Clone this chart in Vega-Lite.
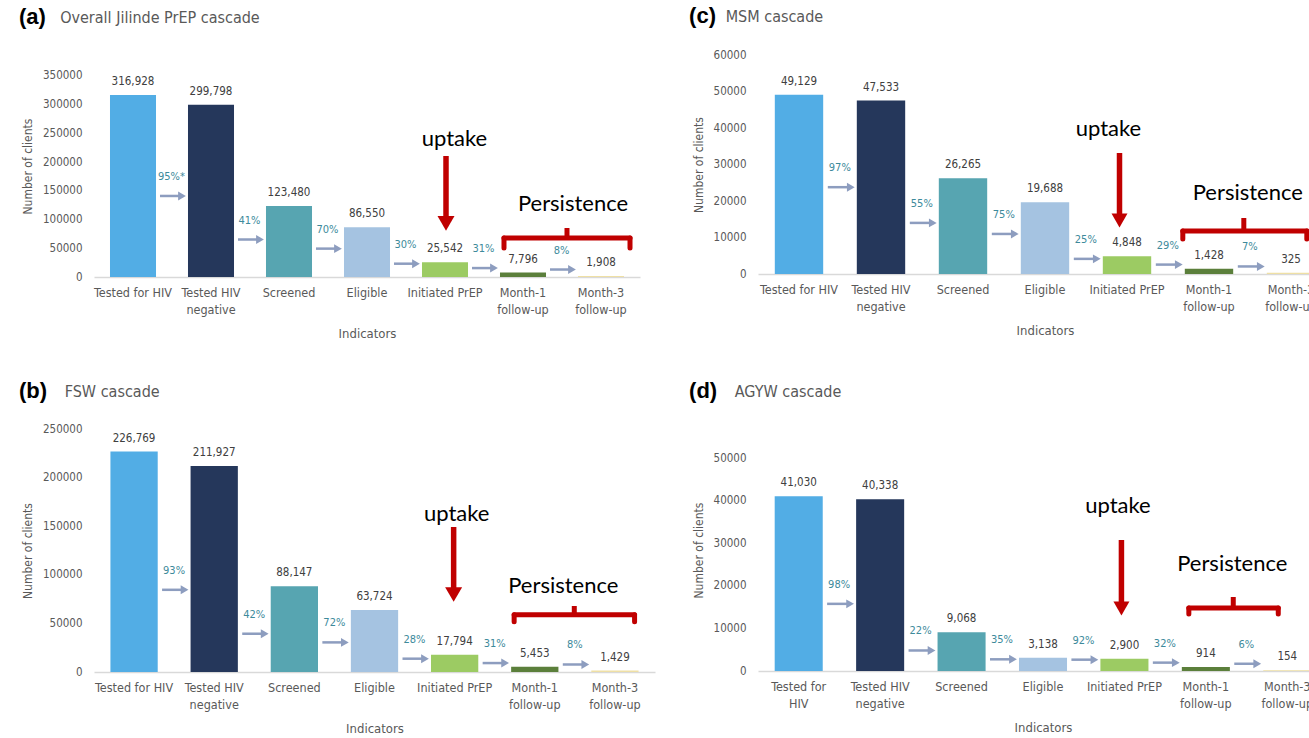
{
  "$schema": "https://vega.github.io/schema/vega-lite/v6.json",
  "padding": {"left": 19, "top": 5, "right": 0, "bottom": 0},
  "background": "#ffffff",
  "config": {
    "font": "DejaVu Sans Condensed, sans-serif",
    "view": {"stroke": null},
    "axisX": {"domain": true, "domainColor": "#D9D9D9", "domainWidth": 1.5, "ticks": false, "grid": false, "labelAngle": 0, "labelPadding": 9, "labelFontSize": 12.5, "labelColor": "#595959", "labelLineHeight": 17, "labelOverlap": false, "labelBound": false, "titleFontSize": 13, "titleColor": "#595959", "titleFontWeight": "normal", "titlePadding": 12},
    "axisY": {"domain": false, "ticks": false, "grid": false, "labelPadding": 12, "labelFontSize": 11.5, "labelColor": "#595959", "titleFontSize": 12, "titleColor": "#595959", "titleFontWeight": "normal", "titlePadding": 8, "format": "d"},
    "title": {"anchor": "start", "frame": "bounds", "font": "Liberation Sans", "fontSize": 22, "fontWeight": "bold", "color": "#000000", "subtitleFont": "DejaVu Sans Condensed, sans-serif", "subtitleFontSize": 16, "subtitleColor": "#595959", "subtitlePadding": -19}
  },
  "datasets": {
    "cascade": [
      {"panel": "a", "step": 1, "indicator": "Tested for HIV", "value": 316928, "pct": null},
      {"panel": "a", "step": 2, "indicator": "Tested HIV\nnegative", "value": 299798, "pct": "95%*"},
      {"panel": "a", "step": 3, "indicator": "Screened", "value": 123480, "pct": "41%"},
      {"panel": "a", "step": 4, "indicator": "Eligible", "value": 86550, "pct": "70%"},
      {"panel": "a", "step": 5, "indicator": "Initiated PrEP", "value": 25542, "pct": "30%"},
      {"panel": "a", "step": 6, "indicator": "Month-1\nfollow-up", "value": 7796, "pct": "31%"},
      {"panel": "a", "step": 7, "indicator": "Month-3\nfollow-up", "value": 1908, "pct": "8%"},
      {"panel": "b", "step": 1, "indicator": "Tested for HIV", "value": 226769, "pct": null},
      {"panel": "b", "step": 2, "indicator": "Tested HIV\nnegative", "value": 211927, "pct": "93%"},
      {"panel": "b", "step": 3, "indicator": "Screened", "value": 88147, "pct": "42%"},
      {"panel": "b", "step": 4, "indicator": "Eligible", "value": 63724, "pct": "72%"},
      {"panel": "b", "step": 5, "indicator": "Initiated PrEP", "value": 17794, "pct": "28%"},
      {"panel": "b", "step": 6, "indicator": "Month-1\nfollow-up", "value": 5453, "pct": "31%"},
      {"panel": "b", "step": 7, "indicator": "Month-3\nfollow-up", "value": 1429, "pct": "8%"},
      {"panel": "c", "step": 1, "indicator": "Tested for HIV", "value": 49129, "pct": null},
      {"panel": "c", "step": 2, "indicator": "Tested HIV\nnegative", "value": 47533, "pct": "97%"},
      {"panel": "c", "step": 3, "indicator": "Screened", "value": 26265, "pct": "55%"},
      {"panel": "c", "step": 4, "indicator": "Eligible", "value": 19688, "pct": "75%"},
      {"panel": "c", "step": 5, "indicator": "Initiated PrEP", "value": 4848, "pct": "25%"},
      {"panel": "c", "step": 6, "indicator": "Month-1\nfollow-up", "value": 1428, "pct": "29%"},
      {"panel": "c", "step": 7, "indicator": "Month-3\nfollow-up", "value": 325, "pct": "7%"},
      {"panel": "d", "step": 1, "indicator": "Tested for\nHIV", "value": 41030, "pct": null},
      {"panel": "d", "step": 2, "indicator": "Tested HIV\nnegative", "value": 40338, "pct": "98%"},
      {"panel": "d", "step": 3, "indicator": "Screened", "value": 9068, "pct": "22%"},
      {"panel": "d", "step": 4, "indicator": "Eligible", "value": 3138, "pct": "35%"},
      {"panel": "d", "step": 5, "indicator": "Initiated PrEP", "value": 2900, "pct": "92%"},
      {"panel": "d", "step": 6, "indicator": "Month-1\nfollow-up", "value": 914, "pct": "32%"},
      {"panel": "d", "step": 7, "indicator": "Month-3\nfollow-up", "value": 154, "pct": "6%"}
    ]
  },
  "spacing": 374,
  "bounds": "flush",
  "vconcat": [
    {
      "spacing": 118,
      "bounds": "flush",
      "hconcat": [
        {
          "width": 546, "height": 222,
          "data": {"name": "cascade"},
          "transform": [{"filter": "datum.panel == 'a'"}],
          "title": {"text": "(a)", "subtitle": "\u200b\u00a0\u00a0\u00a0\u00a0\u00a0\u00a0\u00a0\u00a0\u00a0Overall Jilinde PrEP cascade", "offset": 26, "dx": -2.5},
          "encoding": {"x": {"field": "indicator", "type": "nominal", "scale": {"domain": ["Tested for HIV", "Tested HIV\nnegative", "Screened", "Eligible", "Initiated PrEP", "Month-1\nfollow-up", "Month-3\nfollow-up"], "paddingInner": 0.41, "paddingOuter": 0.205}, "axis": {"title": "Indicators", "labelExpr": "split(datum.label, '\\n')"}}},
          "layer": [
            {"mark": {"type": "bar"}, "encoding": {"y": {"field": "value", "type": "quantitative", "scale": {"domain": [0, 386567], "nice": false}, "axis": {"title": "Number of clients", "values": [0, 50000, 100000, 150000, 200000, 250000, 300000, 350000]}}, "color": {"field": "step", "type": "ordinal", "scale": {"domain": [1, 2, 3, 4, 5, 6, 7], "range": ["#52ADE5", "#25375B", "#57A5B1", "#A5C3E1", "#9CCB63", "#5B7F3B", "#EFE0A5"]}, "legend": null}}},
            {"mark": {"type": "text", "dy": -13, "fontSize": 11.5, "color": "#404040", "baseline": "middle"}, "encoding": {"y": {"field": "value", "type": "quantitative", "scale": {"domain": [0, 386567], "nice": false}, "axis": null}, "text": {"field": "value", "type": "quantitative", "format": ","}}},
            {
              "transform": [{"filter": "datum.pct != null"}],
              "encoding": {"y": {"field": "value", "type": "quantitative", "scale": {"domain": [-28347, 870646], "nice": false, "zero": false}, "axis": null}},
              "layer": [
                {"mark": {"type": "rule", "color": "#8D9DBF", "strokeWidth": 2.5, "xOffset": -28, "x2Offset": -8}, "encoding": {"x": {"field": "indicator", "type": "nominal", "bandPosition": 0}, "x2": {"field": "indicator", "bandPosition": 0}}},
                {"mark": {"type": "point", "shape": "triangle-right", "filled": true, "opacity": 1, "size": 80, "color": "#8D9DBF", "xOffset": -6}, "encoding": {"x": {"field": "indicator", "type": "nominal", "bandPosition": 0}}},
                {"mark": {"type": "text", "dx": -16.5, "dy": -19, "fontSize": 11, "color": "#3D8A9B", "baseline": "middle"}, "encoding": {"x": {"field": "indicator", "type": "nominal", "bandPosition": 0}, "text": {"field": "pct"}}}
              ]
            },
            {
              "data": {"values": [{}]},
              "layer": [
                {"mark": {"type": "text", "text": "uptake", "font": "Lato", "fontSize": 22, "color": "#000000", "baseline": "middle", "dx": 9.5}, "encoding": {"x": {"datum": "Initiated PrEP", "type": "nominal"}, "y": {"datum": 240000, "type": "quantitative", "scale": {"domain": [0, 386567], "nice": false}, "axis": null}}},
                {"mark": {"type": "rule", "color": "#C00000", "strokeWidth": 5.5, "xOffset": 1}, "encoding": {"x": {"datum": "Initiated PrEP", "type": "nominal"}, "y": {"datum": 210700, "type": "quantitative", "scale": {"domain": [0, 386567], "nice": false}, "axis": null}, "y2": {"datum": 100000}}},
                {"mark": {"type": "point", "shape": "triangle-down", "filled": true, "opacity": 1, "size": 289, "color": "#C00000", "xOffset": 1}, "encoding": {"x": {"datum": "Initiated PrEP", "type": "nominal"}, "y": {"datum": 93200, "type": "quantitative", "scale": {"domain": [0, 386567], "nice": false}, "axis": null}}},
                {"mark": {"type": "rule", "color": "#C00000", "strokeWidth": 5, "strokeCap": "round", "xOffset": 4, "x2Offset": 6}, "encoding": {"x": {"datum": "Month-1\nfollow-up", "type": "nominal", "bandPosition": 0}, "x2": {"datum": "Month-3\nfollow-up", "bandPosition": 1}, "y": {"datum": 67900, "type": "quantitative", "scale": {"domain": [0, 386567], "nice": false}, "axis": null}}},
                {"mark": {"type": "rule", "color": "#C00000", "strokeWidth": 5, "strokeCap": "round", "xOffset": 4}, "encoding": {"x": {"datum": "Month-1\nfollow-up", "type": "nominal", "bandPosition": 0}, "y": {"datum": 67900, "type": "quantitative", "scale": {"domain": [0, 386567], "nice": false}, "axis": null}, "y2": {"datum": 50500}}},
                {"mark": {"type": "rule", "color": "#C00000", "strokeWidth": 5, "strokeCap": "round", "xOffset": 6}, "encoding": {"x": {"datum": "Month-3\nfollow-up", "type": "nominal", "bandPosition": 1}, "y": {"datum": 67900, "type": "quantitative", "scale": {"domain": [0, 386567], "nice": false}, "axis": null}, "y2": {"datum": 50500}}},
                {"mark": {"type": "rule", "color": "#C00000", "strokeWidth": 5, "xOffset": -11}, "encoding": {"x": {"datum": "Month-3\nfollow-up", "type": "nominal", "bandPosition": 0}, "y": {"datum": 67900, "type": "quantitative", "scale": {"domain": [0, 386567], "nice": false}, "axis": null}, "y2": {"datum": 85300}}},
                {"mark": {"type": "text", "text": "Persistence", "font": "Lato", "fontSize": 22, "color": "#000000", "baseline": "middle", "dx": -5}, "encoding": {"x": {"datum": "Month-3\nfollow-up", "type": "nominal", "bandPosition": 0}, "y": {"datum": 127100, "type": "quantitative", "scale": {"domain": [0, 386567], "nice": false}, "axis": null}}}
              ]
            }
          ],
          "resolve": {"scale": {"y": "independent"}}
        },
        {
          "width": 574, "height": 219,
          "data": {"name": "cascade"},
          "transform": [{"filter": "datum.panel == 'c'"}],
          "title": {"text": "(c)", "subtitle": "\u200b\u00a0\u00a0\u00a0\u00a0\u00a0\u00a0\u00a0\u00a0MSM cascade", "offset": 21, "dx": -3},
          "encoding": {"x": {"field": "indicator", "type": "nominal", "scale": {"domain": ["Tested for HIV", "Tested HIV\nnegative", "Screened", "Eligible", "Initiated PrEP", "Month-1\nfollow-up", "Month-3\nfollow-up"], "paddingInner": 0.41, "paddingOuter": 0.205}, "axis": {"title": "Indicators", "labelExpr": "split(datum.label, '\\n')"}}},
          "layer": [
            {"mark": {"type": "bar"}, "encoding": {"y": {"field": "value", "type": "quantitative", "scale": {"domain": [0, 60000], "nice": false}, "axis": {"title": "Number of clients", "values": [0, 10000, 20000, 30000, 40000, 50000, 60000]}}, "color": {"field": "step", "type": "ordinal", "scale": {"domain": [1, 2, 3, 4, 5, 6, 7], "range": ["#52ADE5", "#25375B", "#57A5B1", "#A5C3E1", "#9CCB63", "#5B7F3B", "#EFE0A5"]}, "legend": null}}},
            {"mark": {"type": "text", "dy": -13, "fontSize": 11.5, "color": "#404040", "baseline": "middle"}, "encoding": {"y": {"field": "value", "type": "quantitative", "scale": {"domain": [0, 60000], "nice": false}, "axis": null}, "text": {"field": "value", "type": "quantitative", "format": ","}}},
            {
              "transform": [{"filter": "datum.pct != null"}],
              "encoding": {"y": {"field": "value", "type": "quantitative", "scale": {"domain": [-4169, 126266], "nice": false, "zero": false}, "axis": null}},
              "layer": [
                {"mark": {"type": "rule", "color": "#8D9DBF", "strokeWidth": 2.5, "xOffset": -29, "x2Offset": -8}, "encoding": {"x": {"field": "indicator", "type": "nominal", "bandPosition": 0}, "x2": {"field": "indicator", "bandPosition": 0}}},
                {"mark": {"type": "point", "shape": "triangle-right", "filled": true, "opacity": 1, "size": 80, "color": "#8D9DBF", "xOffset": -6}, "encoding": {"x": {"field": "indicator", "type": "nominal", "bandPosition": 0}}},
                {"mark": {"type": "text", "dx": -17, "dy": -19, "fontSize": 11, "color": "#3D8A9B", "baseline": "middle"}, "encoding": {"x": {"field": "indicator", "type": "nominal", "bandPosition": 0}, "text": {"field": "pct"}}}
              ]
            },
            {
              "data": {"values": [{}]},
              "layer": [
                {"mark": {"type": "text", "text": "uptake", "font": "Lato", "fontSize": 22, "color": "#000000", "baseline": "middle", "dx": -18.5}, "encoding": {"x": {"datum": "Initiated PrEP", "type": "nominal"}, "y": {"datum": 39700, "type": "quantitative", "scale": {"domain": [0, 60000], "nice": false}, "axis": null}}},
                {"mark": {"type": "rule", "color": "#C00000", "strokeWidth": 5.5, "xOffset": -7.5}, "encoding": {"x": {"datum": "Initiated PrEP", "type": "nominal"}, "y": {"datum": 33150, "type": "quantitative", "scale": {"domain": [0, 60000], "nice": false}, "axis": null}, "y2": {"datum": 16000}}},
                {"mark": {"type": "point", "shape": "triangle-down", "filled": true, "opacity": 1, "size": 256, "color": "#C00000", "xOffset": -7.5}, "encoding": {"x": {"datum": "Initiated PrEP", "type": "nominal"}, "y": {"datum": 14660, "type": "quantitative", "scale": {"domain": [0, 60000], "nice": false}, "axis": null}}},
                {"mark": {"type": "rule", "color": "#C00000", "strokeWidth": 5, "strokeCap": "round", "xOffset": -2, "x2Offset": 40}, "encoding": {"x": {"datum": "Month-1\nfollow-up", "type": "nominal", "bandPosition": 0}, "x2": {"datum": "Month-3\nfollow-up", "bandPosition": 0}, "y": {"datum": 11780, "type": "quantitative", "scale": {"domain": [0, 60000], "nice": false}, "axis": null}}},
                {"mark": {"type": "rule", "color": "#C00000", "strokeWidth": 5, "strokeCap": "round", "xOffset": -2}, "encoding": {"x": {"datum": "Month-1\nfollow-up", "type": "nominal", "bandPosition": 0}, "y": {"datum": 11780, "type": "quantitative", "scale": {"domain": [0, 60000], "nice": false}, "axis": null}, "y2": {"datum": 9590}}},
                {"mark": {"type": "rule", "color": "#C00000", "strokeWidth": 5, "strokeCap": "round", "xOffset": 40}, "encoding": {"x": {"datum": "Month-3\nfollow-up", "type": "nominal", "bandPosition": 0}, "y": {"datum": 11780, "type": "quantitative", "scale": {"domain": [0, 60000], "nice": false}, "axis": null}, "y2": {"datum": 9590}}},
                {"mark": {"type": "rule", "color": "#C00000", "strokeWidth": 5, "xOffset": -23}, "encoding": {"x": {"datum": "Month-3\nfollow-up", "type": "nominal", "bandPosition": 0}, "y": {"datum": 11780, "type": "quantitative", "scale": {"domain": [0, 60000], "nice": false}, "axis": null}, "y2": {"datum": 15340}}},
                {"mark": {"type": "text", "text": "Persistence", "font": "Lato", "fontSize": 22, "color": "#000000", "baseline": "middle", "dx": -19}, "encoding": {"x": {"datum": "Month-3\nfollow-up", "type": "nominal", "bandPosition": 0}, "y": {"datum": 22250, "type": "quantitative", "scale": {"domain": [0, 60000], "nice": false}, "axis": null}}}
              ]
            }
          ],
          "resolve": {"scale": {"y": "independent"}}
        }
      ]
    },
    {
      "spacing": 103,
      "bounds": "flush",
      "hconcat": [
        {
          "width": 561, "height": 243,
          "data": {"name": "cascade"},
          "transform": [{"filter": "datum.panel == 'b'"}],
          "title": {"text": "(b)", "subtitle": "\u200b\u00a0\u00a0\u00a0\u00a0\u00a0\u00a0\u00a0\u00a0\u00a0\u00a0FSW cascade", "offset": 20, "dx": -2.5},
          "encoding": {"x": {"field": "indicator", "type": "nominal", "scale": {"domain": ["Tested for HIV", "Tested HIV\nnegative", "Screened", "Eligible", "Initiated PrEP", "Month-1\nfollow-up", "Month-3\nfollow-up"], "paddingInner": 0.41, "paddingOuter": 0.205}, "axis": {"title": "Indicators", "labelExpr": "split(datum.label, '\\n')"}}},
          "layer": [
            {"mark": {"type": "bar"}, "encoding": {"y": {"field": "value", "type": "quantitative", "scale": {"domain": [0, 250000], "nice": false}, "axis": {"title": "Number of clients", "values": [0, 50000, 100000, 150000, 200000, 250000]}}, "color": {"field": "step", "type": "ordinal", "scale": {"domain": [1, 2, 3, 4, 5, 6, 7], "range": ["#52ADE5", "#25375B", "#57A5B1", "#A5C3E1", "#9CCB63", "#5B7F3B", "#EFE0A5"]}, "legend": null}}},
            {"mark": {"type": "text", "dy": -13, "fontSize": 11.5, "color": "#404040", "baseline": "middle"}, "encoding": {"y": {"field": "value", "type": "quantitative", "scale": {"domain": [0, 250000], "nice": false}, "axis": null}, "text": {"field": "value", "type": "quantitative", "format": ","}}},
            {
              "transform": [{"filter": "datum.pct != null"}],
              "encoding": {"y": {"field": "value", "type": "quantitative", "scale": {"domain": [-19730, 665202], "nice": false, "zero": false}, "axis": null}},
              "layer": [
                {"mark": {"type": "rule", "color": "#8D9DBF", "strokeWidth": 2.5, "xOffset": -28.5, "x2Offset": -8}, "encoding": {"x": {"field": "indicator", "type": "nominal", "bandPosition": 0}, "x2": {"field": "indicator", "bandPosition": 0}}},
                {"mark": {"type": "point", "shape": "triangle-right", "filled": true, "opacity": 1, "size": 80, "color": "#8D9DBF", "xOffset": -6}, "encoding": {"x": {"field": "indicator", "type": "nominal", "bandPosition": 0}}},
                {"mark": {"type": "text", "dx": -16.5, "dy": -19, "fontSize": 11, "color": "#3D8A9B", "baseline": "middle"}, "encoding": {"x": {"field": "indicator", "type": "nominal", "bandPosition": 0}, "text": {"field": "pct"}}}
              ]
            },
            {
              "data": {"values": [{}]},
              "layer": [
                {"mark": {"type": "text", "text": "uptake", "font": "Lato", "fontSize": 22, "color": "#000000", "baseline": "middle", "dx": 2}, "encoding": {"x": {"datum": "Initiated PrEP", "type": "nominal"}, "y": {"datum": 162550, "type": "quantitative", "scale": {"domain": [0, 250000], "nice": false}, "axis": null}}},
                {"mark": {"type": "rule", "color": "#C00000", "strokeWidth": 5.5, "xOffset": -1}, "encoding": {"x": {"datum": "Initiated PrEP", "type": "nominal"}, "y": {"datum": 149180, "type": "quantitative", "scale": {"domain": [0, 250000], "nice": false}, "axis": null}, "y2": {"datum": 85000}}},
                {"mark": {"type": "point", "shape": "triangle-down", "filled": true, "opacity": 1, "size": 289, "color": "#C00000", "xOffset": -1}, "encoding": {"x": {"datum": "Initiated PrEP", "type": "nominal"}, "y": {"datum": 79730, "type": "quantitative", "scale": {"domain": [0, 250000], "nice": false}, "axis": null}}},
                {"mark": {"type": "rule", "color": "#C00000", "strokeWidth": 5, "strokeCap": "round", "xOffset": 3, "x2Offset": -4}, "encoding": {"x": {"datum": "Month-1\nfollow-up", "type": "nominal", "bandPosition": 0}, "x2": {"datum": "Month-3\nfollow-up", "bandPosition": 1}, "y": {"datum": 58900, "type": "quantitative", "scale": {"domain": [0, 250000], "nice": false}, "axis": null}}},
                {"mark": {"type": "rule", "color": "#C00000", "strokeWidth": 5, "strokeCap": "round", "xOffset": 3}, "encoding": {"x": {"datum": "Month-1\nfollow-up", "type": "nominal", "bandPosition": 0}, "y": {"datum": 58900, "type": "quantitative", "scale": {"domain": [0, 250000], "nice": false}, "axis": null}, "y2": {"datum": 51750}}},
                {"mark": {"type": "rule", "color": "#C00000", "strokeWidth": 5, "strokeCap": "round", "xOffset": -4}, "encoding": {"x": {"datum": "Month-3\nfollow-up", "type": "nominal", "bandPosition": 1}, "y": {"datum": 58900, "type": "quantitative", "scale": {"domain": [0, 250000], "nice": false}, "axis": null}, "y2": {"datum": 51750}}},
                {"mark": {"type": "rule", "color": "#C00000", "strokeWidth": 5, "xOffset": -17}, "encoding": {"x": {"datum": "Month-3\nfollow-up", "type": "nominal", "bandPosition": 0}, "y": {"datum": 58900, "type": "quantitative", "scale": {"domain": [0, 250000], "nice": false}, "axis": null}, "y2": {"datum": 67900}}},
                {"mark": {"type": "text", "text": "Persistence", "font": "Lato", "fontSize": 22, "color": "#000000", "baseline": "middle", "dx": -28}, "encoding": {"x": {"datum": "Month-3\nfollow-up", "type": "nominal", "bandPosition": 0}, "y": {"datum": 88480, "type": "quantitative", "scale": {"domain": [0, 250000], "nice": false}, "axis": null}}}
              ]
            }
          ],
          "resolve": {"scale": {"y": "independent"}}
        },
        {
          "width": 570, "height": 242,
          "data": {"name": "cascade"},
          "transform": [{"filter": "datum.panel == 'd'"}],
          "title": {"text": "(d)", "subtitle": "\u200b\u00a0\u00a0\u00a0\u00a0\u00a0\u00a0\u00a0\u00a0\u00a0\u00a0AGYW cascade", "offset": 26, "dx": -3},
          "encoding": {"x": {"field": "indicator", "type": "nominal", "scale": {"domain": ["Tested for\nHIV", "Tested HIV\nnegative", "Screened", "Eligible", "Initiated PrEP", "Month-1\nfollow-up", "Month-3\nfollow-up"], "paddingInner": 0.41, "paddingOuter": 0.205}, "axis": {"title": "Indicators", "labelExpr": "split(datum.label, '\\n')"}}},
          "layer": [
            {"mark": {"type": "bar"}, "encoding": {"y": {"field": "value", "type": "quantitative", "scale": {"domain": [0, 56808], "nice": false}, "axis": {"title": "Number of clients", "values": [0, 10000, 20000, 30000, 40000, 50000]}}, "color": {"field": "step", "type": "ordinal", "scale": {"domain": [1, 2, 3, 4, 5, 6, 7], "range": ["#52ADE5", "#25375B", "#57A5B1", "#A5C3E1", "#9CCB63", "#5B7F3B", "#EFE0A5"]}, "legend": null}}},
            {"mark": {"type": "text", "dy": -13, "fontSize": 11.5, "color": "#404040", "baseline": "middle"}, "encoding": {"y": {"field": "value", "type": "quantitative", "scale": {"domain": [0, 56808], "nice": false}, "axis": null}, "text": {"field": "value", "type": "quantitative", "format": ","}}},
            {
              "transform": [{"filter": "datum.pct != null"}],
              "encoding": {"y": {"field": "value", "type": "quantitative", "scale": {"domain": [-4695, 157614], "nice": false, "zero": false}, "axis": null}},
              "layer": [
                {"mark": {"type": "rule", "color": "#8D9DBF", "strokeWidth": 2.5, "xOffset": -29, "x2Offset": -8}, "encoding": {"x": {"field": "indicator", "type": "nominal", "bandPosition": 0}, "x2": {"field": "indicator", "bandPosition": 0}}},
                {"mark": {"type": "point", "shape": "triangle-right", "filled": true, "opacity": 1, "size": 80, "color": "#8D9DBF", "xOffset": -6}, "encoding": {"x": {"field": "indicator", "type": "nominal", "bandPosition": 0}}},
                {"mark": {"type": "text", "dx": -17, "dy": -19, "fontSize": 11, "color": "#3D8A9B", "baseline": "middle"}, "encoding": {"x": {"field": "indicator", "type": "nominal", "bandPosition": 0}, "text": {"field": "pct"}}}
              ]
            },
            {
              "data": {"values": [{}]},
              "layer": [
                {"mark": {"type": "text", "text": "uptake", "font": "Lato", "fontSize": 22, "color": "#000000", "baseline": "middle", "dx": -6.5}, "encoding": {"x": {"datum": "Initiated PrEP", "type": "nominal"}, "y": {"datum": 38730, "type": "quantitative", "scale": {"domain": [0, 56808], "nice": false}, "axis": null}}},
                {"mark": {"type": "rule", "color": "#C00000", "strokeWidth": 5.5, "xOffset": -3}, "encoding": {"x": {"datum": "Initiated PrEP", "type": "nominal"}, "y": {"datum": 30750, "type": "quantitative", "scale": {"domain": [0, 56808], "nice": false}, "axis": null}, "y2": {"datum": 16000}}},
                {"mark": {"type": "point", "shape": "triangle-down", "filled": true, "opacity": 1, "size": 256, "color": "#C00000", "xOffset": -3}, "encoding": {"x": {"datum": "Initiated PrEP", "type": "nominal"}, "y": {"datum": 14670, "type": "quantitative", "scale": {"domain": [0, 56808], "nice": false}, "axis": null}}},
                {"mark": {"type": "rule", "color": "#C00000", "strokeWidth": 5, "strokeCap": "round", "xOffset": 7, "x2Offset": 15}, "encoding": {"x": {"datum": "Month-1\nfollow-up", "type": "nominal", "bandPosition": 0}, "x2": {"datum": "Month-3\nfollow-up", "bandPosition": 0}, "y": {"datum": 14786, "type": "quantitative", "scale": {"domain": [0, 56808], "nice": false}, "axis": null}}},
                {"mark": {"type": "rule", "color": "#C00000", "strokeWidth": 5, "strokeCap": "round", "xOffset": 7}, "encoding": {"x": {"datum": "Month-1\nfollow-up", "type": "nominal", "bandPosition": 0}, "y": {"datum": 14786, "type": "quantitative", "scale": {"domain": [0, 56808], "nice": false}, "axis": null}, "y2": {"datum": 13400}}},
                {"mark": {"type": "rule", "color": "#C00000", "strokeWidth": 5, "strokeCap": "round", "xOffset": 15}, "encoding": {"x": {"datum": "Month-3\nfollow-up", "type": "nominal", "bandPosition": 0}, "y": {"datum": 14786, "type": "quantitative", "scale": {"domain": [0, 56808], "nice": false}, "axis": null}, "y2": {"datum": 13400}}},
                {"mark": {"type": "rule", "color": "#C00000", "strokeWidth": 5, "xOffset": -30}, "encoding": {"x": {"datum": "Month-3\nfollow-up", "type": "nominal", "bandPosition": 0}, "y": {"datum": 14786, "type": "quantitative", "scale": {"domain": [0, 56808], "nice": false}, "axis": null}, "y2": {"datum": 17368}}},
                {"mark": {"type": "text", "text": "Persistence", "font": "Lato", "fontSize": 22, "color": "#000000", "baseline": "middle", "dx": -31}, "encoding": {"x": {"datum": "Month-3\nfollow-up", "type": "nominal", "bandPosition": 0}, "y": {"datum": 25110, "type": "quantitative", "scale": {"domain": [0, 56808], "nice": false}, "axis": null}}}
              ]
            }
          ],
          "resolve": {"scale": {"y": "independent"}}
        }
      ]
    }
  ]
}
